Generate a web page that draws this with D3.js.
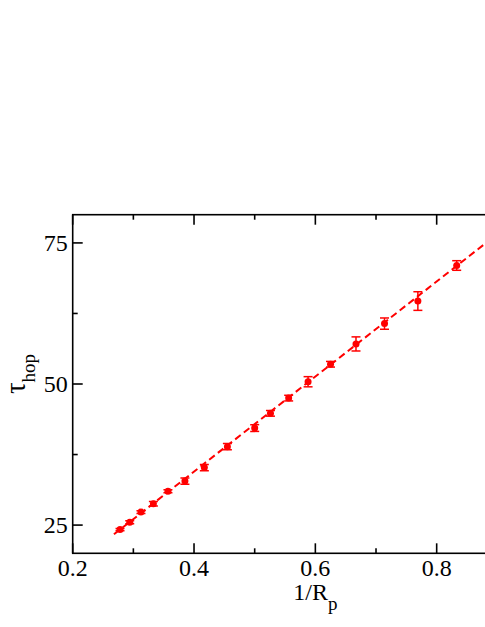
<!DOCTYPE html>
<html>
<head>
<meta charset="utf-8">
<script src="https://cdn.jsdelivr.net/npm/d3@7"></script>
<style>
  body { margin: 0; background: #ffffff; }
  svg { display: block; }
</style>
</head>
<body>
<svg id="chart"></svg>
<script>
// 1/R_p, tau_hop and its error
const invRp = [0.278, 0.294, 0.3125, 0.333, 0.357, 0.385, 0.417, 0.455, 0.5, 0.526, 0.556, 0.588, 0.625, 0.667, 0.714, 0.769, 0.833];
const tauHop = [24.2, 25.5, 27.3, 28.8, 31.0, 32.8, 35.2, 38.9, 42.2, 44.8, 47.5, 50.4, 53.5, 57.1, 60.7, 64.7, 71.0];
const tauErr = [0.2, 0.25, 0.25, 0.4, 0.25, 0.55, 0.55, 0.55, 0.6, 0.5, 0.5, 0.9, 0.5, 1.25, 1.0, 1.65, 0.85];

// dashed fit line end points (x in 1/R_p)
const fitX = [0.268, 1.0];
const fitIntercept = 0.8;
const fitSlope = 84.2;

const xTicks = [0.2, 0.4, 0.6, 0.8, 1.0];
const xMinor = [0.3, 0.5, 0.7, 0.9];
const yTicks = [25, 50, 75];
const yMinor = [37.5, 62.5];

const width = 485;
const height = 627;
const margin = { top: 214.7, left: 72.7, bottom: 627 - 553.3 };
const plotW = 485.3; // plot runs past the window edge
const RED = "#ff0000";
const FONT = "Liberation Serif";

const svg = d3.select("#chart")
  .attr("width", width)
  .attr("height", height);

const x = d3.scaleLinear().domain([0.2, 1.0]).range([margin.left, margin.left + plotW]);
const y = d3.scaleLinear().domain([20, 80]).range([height - margin.bottom, margin.top]);

const points = invRp.map((d, i) => ({ x: d, y: tauHop[i], e: tauErr[i] }));

svg.append("clipPath").attr("id", "clip")
  .append("rect")
  .attr("x", x(0.2)).attr("y", y(80))
  .attr("width", x(1.0) - x(0.2)).attr("height", y(20) - y(80));

const plot = svg.append("g").attr("clip-path", "url(#clip)");

// fit line
plot.append("line")
  .attr("x1", x(fitX[0])).attr("y1", y(fitIntercept + fitSlope * fitX[0]))
  .attr("x2", x(fitX[1])).attr("y2", y(fitIntercept + fitSlope * fitX[1]))
  .attr("stroke", RED)
  .attr("stroke-width", 2)
  .attr("stroke-dasharray", "7,4");

// error bars
const bars = plot.append("g").selectAll("g").data(points).join("g")
  .attr("stroke", RED).attr("stroke-width", 1.5);
bars.append("line")
  .attr("x1", d => x(d.x)).attr("x2", d => x(d.x))
  .attr("y1", d => y(d.y - d.e)).attr("y2", d => y(d.y + d.e));
bars.append("line")
  .attr("x1", d => x(d.x) - 4.5).attr("x2", d => x(d.x) + 4.5)
  .attr("y1", d => y(d.y + d.e)).attr("y2", d => y(d.y + d.e));
bars.append("line")
  .attr("x1", d => x(d.x) - 4.5).attr("x2", d => x(d.x) + 4.5)
  .attr("y1", d => y(d.y - d.e)).attr("y2", d => y(d.y - d.e));

plot.append("g").selectAll("circle").data(points).join("circle")
  .attr("cx", d => x(d.x))
  .attr("cy", d => y(d.y))
  .attr("r", 3.5)
  .attr("fill", RED);

// frame
const x0 = x(0.2), x1 = x(1.0), y0 = y(20), y1 = y(80);
svg.append("rect")
  .attr("x", x0).attr("y", y1)
  .attr("width", x1 - x0).attr("height", y0 - y1)
  .attr("fill", "none").attr("stroke", "#000").attr("stroke-width", 1.6);

// inward ticks on all four sides
const tickG = svg.append("g").attr("stroke", "#000").attr("stroke-width", 1.6);
const xt = xTicks.map(v => ({ v, len: 10 })).concat(xMinor.map(v => ({ v, len: 5 })));
const yt = yTicks.map(v => ({ v, len: 10 })).concat(yMinor.map(v => ({ v, len: 5 })));

tickG.selectAll(".xb").data(xt).join("line").attr("class", "xb")
  .attr("x1", d => x(d.v)).attr("x2", d => x(d.v))
  .attr("y1", y0).attr("y2", d => y0 - d.len);
tickG.selectAll(".xt").data(xt).join("line").attr("class", "xt")
  .attr("x1", d => x(d.v)).attr("x2", d => x(d.v))
  .attr("y1", y1).attr("y2", d => y1 + d.len);
tickG.selectAll(".yl").data(yt).join("line").attr("class", "yl")
  .attr("y1", d => y(d.v)).attr("y2", d => y(d.v))
  .attr("x1", x0).attr("x2", d => x0 + d.len);
tickG.selectAll(".yr").data(yt).join("line").attr("class", "yr")
  .attr("y1", d => y(d.v)).attr("y2", d => y(d.v))
  .attr("x1", x1).attr("x2", d => x1 - d.len);

// tick labels (only those inside the window)
svg.append("g").selectAll("text").data(xTicks.filter(d => x(d) < width)).join("text")
  .attr("font-family", FONT)
  .attr("x", d => x(d))
  .attr("y", y0 + 23)
  .attr("text-anchor", "middle")
  .attr("font-size", 24)
  .text(d => d3.format(".1f")(d));

svg.append("g").selectAll("text").data(yTicks).join("text")
  .attr("font-family", FONT)
  .attr("x", x0 - 5)
  .attr("y", d => y(d) + 8)
  .attr("text-anchor", "end")
  .attr("font-size", 24)
  .text(d => d);

// axis titles
const xTitle = svg.append("text")
  .attr("font-family", FONT)
  .attr("x", (x0 + x1) / 2)
  .attr("y", 600)
  .attr("text-anchor", "middle")
  .attr("font-size", 24);
xTitle.append("tspan").text("1/R");
xTitle.append("tspan").attr("dy", 10).attr("font-size", 19).text("p");

const yTitle = svg.append("text")
  .attr("font-family", FONT)
  .attr("transform", "translate(25,374) rotate(-90)")
  .attr("text-anchor", "middle")
  .attr("font-size", 29);
yTitle.append("tspan").text("τ");
yTitle.append("tspan").attr("dy", 10).attr("font-size", 19).text("hop");
</script>
</body>
</html>
